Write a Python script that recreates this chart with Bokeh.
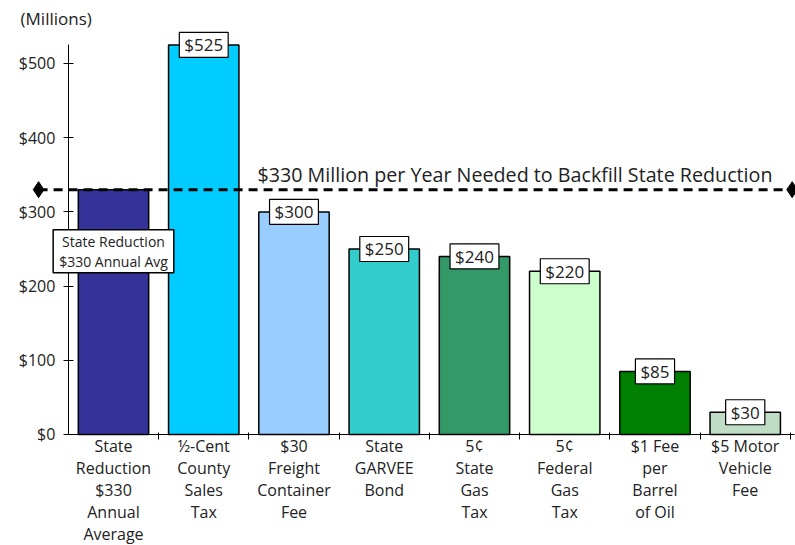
from bokeh.plotting import figure
from bokeh.models import (ColumnDataSource, LinearAxis, FixedTicker, Range1d, Label)
from bokeh.embed import file_html
from bokeh.resources import INLINE

# ---------------- data ----------------
categories = [
    "State\nReduction\n$330\nAnnual\nAverage",
    "½-Cent\nCounty\nSales\nTax",
    "$30\nFreight\nContainer\nFee",
    "State\nGARVEE\nBond",
    "5¢\nState\nGas\nTax",
    "5¢\nFederal\nGas\nTax",
    "$1 Fee\nper\nBarrel\nof Oil",
    "$5 Motor\nVehicle\nFee",
]
values = [330, 525, 300, 250, 240, 220, 85, 30]
bar_labels = ["", "$525", "$300", "$250", "$240", "$220", "$85", "$30"]
colors = ["#333399", "#00CCFF", "#99CCFF", "#33CCCC",
          "#339966", "#CCFFCC", "#008000", "#BFDDC5"]
y_ticks = [0, 100, 200, 300, 400, 500]
y_tick_labels = ["$0", "$100", "$200", "$300", "$400", "$500"]
backfill_target = 330
backfill_text = "$330 Million per Year Needed to Backfill State Reduction"
state_box_text = "State Reduction\n$330 Annual Avg"
unit_text = "(Millions)"

FONT = "Open Sans"
TXT = "#222222"

n = len(categories)
xs = list(range(n))

p = figure(width=795, height=545, title=None,
           x_range=Range1d(-1.252, 7.557), y_range=Range1d(-149.6, 584.9),
           x_axis_type=None, y_axis_type=None,
           toolbar_location=None, output_backend="svg",
           min_border=0, outline_line_color=None,
           background_fill_color="white", border_fill_color="white")

# bars
src = ColumnDataSource(dict(x=xs, top=values, color=colors))
p.vbar(x="x", top="top", bottom=0, width=0.78, fill_color="color",
       line_color="black", line_width=1.5, source=src)

# y axis at left boundary
yaxis = LinearAxis(fixed_location=-0.5,
                   ticker=FixedTicker(ticks=y_ticks),
                   major_label_overrides={t: l for t, l in zip(y_ticks, y_tick_labels)},
                   bounds=(0, max(values)),
                   major_tick_in=5, major_tick_out=5,
                   minor_tick_line_color=None,
                   axis_line_color="black", major_tick_line_color="black",
                   major_label_standoff=8,
                   major_label_text_font=FONT,
                   major_label_text_font_size="16px",
                   major_label_text_color=TXT)
p.add_layout(yaxis, "left")

# x axis with ticks at category boundaries
bounds_ticks = [i + 0.5 for i in range(n)]
xaxis = LinearAxis(fixed_location=0,
                   ticker=FixedTicker(ticks=bounds_ticks),
                   major_label_overrides={t: "" for t in bounds_ticks},
                   bounds=(-0.5, n - 0.45),
                   major_tick_in=2, major_tick_out=5,
                   minor_tick_line_color=None,
                   axis_line_color="black", major_tick_line_color="black")
p.add_layout(xaxis, "below")

# category labels axis
caxis = LinearAxis(fixed_location=0,
                   ticker=FixedTicker(ticks=xs),
                   major_label_overrides={i: c for i, c in zip(xs, categories)},
                   axis_line_color=None, major_tick_line_color=None,
                   minor_tick_line_color=None,
                   major_label_standoff=-5,
                   major_label_text_font=FONT,
                   major_label_text_font_size="16px",
                   major_label_text_line_height=0.99,
                   major_label_text_color=TXT)
p.add_layout(caxis, "below")

# backfill dashed line with diamonds
line_x = [-0.83, n - 0.48]
p.line(x=line_x, y=[backfill_target] * 2, line_color="black",
       line_width=3, line_dash="9 6")
p.scatter(x=line_x, y=[backfill_target] * 2, marker="diamond", size=16,
          fill_color="black", line_color="black")
p.add_layout(Label(x=1.595, y=backfill_target, y_offset=2, text=backfill_text,
                   text_font=FONT, text_font_size="19.7px", text_color=TXT,
                   text_align="left", text_baseline="bottom"))

# bar value labels
for xi, v, lab in zip(xs, values, bar_labels):
    if not lab:
        continue
    p.add_layout(Label(x=xi, y=v, text=lab,
                       text_font=FONT, text_font_size="17px", text_color=TXT,
                       text_align="center", text_baseline="middle",
                       background_fill_color="white", border_line_color="black",
                       border_line_width=1.2, padding=(5, 1)))

# state reduction box
p.add_layout(Label(x=0, y=247, text=state_box_text,
                   text_font=FONT, text_font_size="14px", text_color=TXT,
                   text_align="center", text_baseline="middle",
                   text_line_height=1.06,
                   background_fill_color="white", border_line_color="black",
                   border_line_width=1.5, padding=(6, 2)))

# units label
p.add_layout(Label(x=-1.03, y=560, text=unit_text,
                   text_font=FONT, text_font_size="17px", text_color=TXT,
                   text_align="left", text_baseline="middle"))

open("out.html", "w").write(file_html(p, INLINE))
